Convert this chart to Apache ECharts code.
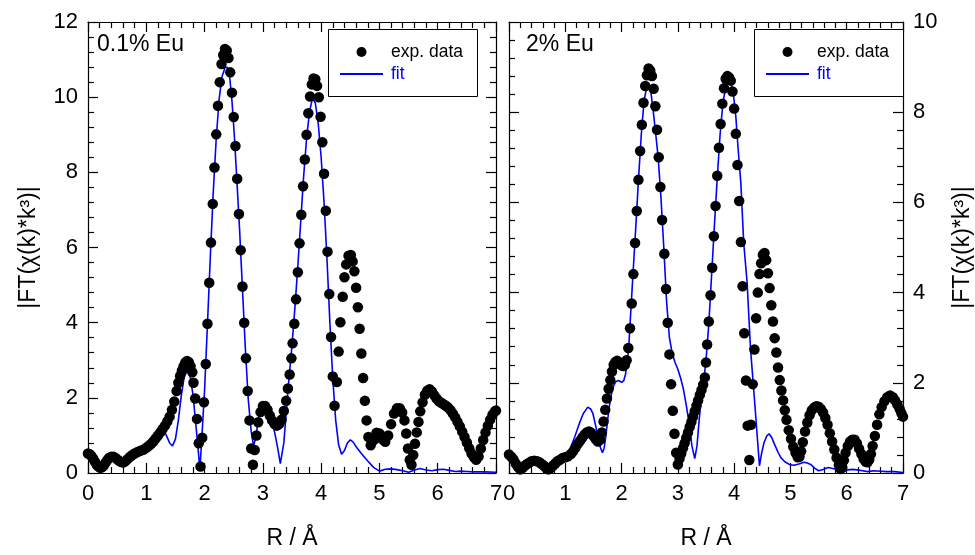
<!DOCTYPE html>
<html>
<head>
<meta charset="utf-8">
<script src="https://cdn.jsdelivr.net/npm/echarts@6/dist/echarts.min.js"></script>
<style>
html,body{margin:0;padding:0;background:#fff;}
#chart{width:975px;height:555px;}
</style>
</head>
<body>
<div id="chart"></div>
<script>
// ---------- data ----------
const xTicks = [0,1,2,3,4,5,6,7];
const leftYTicks = [0,2,4,6,8,10,12];
const rightYTicks = [0,2,4,6,8,10];
const panelLabels = ['0.1% Eu', '2% Eu'];
const legendNames = ['exp. data', 'fit'];

// 0.1% Eu experimental data
const leftExpR = [0.00,0.03,0.06,0.09,0.12,0.15,0.18,0.21,0.24,0.27,0.30,0.33,0.36,0.40,0.44,0.48,0.52,0.56,0.60,0.64,0.68,0.72,0.76,0.80,0.85,0.90,0.95,1.00,1.04,1.08,1.12,1.16,1.20,1.24,1.28,1.32,1.36,1.40,1.44,1.48,1.52,1.55,1.58,1.61,1.64,1.67,1.70,1.73,1.76,1.79,1.81,1.84,1.87,1.90,1.93,1.96,1.99,2.02,2.05,2.08,2.11,2.14,2.17,2.20,2.23,2.26,2.29,2.32,2.35,2.38,2.41,2.44,2.47,2.50,2.53,2.56,2.59,2.62,2.65,2.68,2.71,2.74,2.77,2.80,2.83,2.86,2.89,2.92,2.96,3.00,3.04,3.08,3.12,3.16,3.20,3.24,3.28,3.32,3.36,3.40,3.43,3.46,3.49,3.51,3.54,3.57,3.60,3.63,3.66,3.69,3.72,3.75,3.78,3.81,3.84,3.87,3.90,3.93,3.96,3.99,4.02,4.05,4.08,4.11,4.14,4.17,4.20,4.23,4.27,4.30,4.33,4.37,4.40,4.43,4.47,4.51,4.54,4.57,4.60,4.63,4.66,4.69,4.72,4.75,4.78,4.81,4.85,4.90,4.95,5.00,5.05,5.10,5.15,5.20,5.25,5.30,5.35,5.39,5.43,5.46,5.49,5.52,5.55,5.58,5.61,5.64,5.67,5.70,5.74,5.78,5.82,5.86,5.90,5.94,5.98,6.02,6.06,6.10,6.14,6.18,6.22,6.26,6.30,6.34,6.38,6.42,6.46,6.50,6.54,6.58,6.62,6.66,6.70,6.74,6.78,6.82,6.86,6.90,6.94,6.98,7.00];
const leftExpV = [0.52,0.50,0.45,0.38,0.30,0.22,0.17,0.14,0.15,0.20,0.27,0.34,0.40,0.43,0.43,0.39,0.34,0.30,0.28,0.31,0.37,0.43,0.48,0.52,0.56,0.59,0.62,0.67,0.72,0.77,0.84,0.92,1.00,1.08,1.17,1.26,1.37,1.50,1.68,1.90,2.18,2.40,2.58,2.72,2.84,2.94,2.98,2.95,2.84,2.68,2.40,1.98,1.44,0.79,0.17,0.94,1.88,2.90,3.97,5.06,6.13,7.16,8.13,9.01,9.77,10.40,10.88,11.12,11.28,11.24,11.04,10.66,10.12,9.47,8.70,7.83,6.89,5.93,4.96,4.00,3.05,2.18,1.40,0.65,0.22,0.61,1.00,1.35,1.62,1.78,1.78,1.68,1.53,1.40,1.30,1.26,1.30,1.42,1.65,1.92,2.25,2.62,3.05,3.45,3.97,4.62,5.34,6.11,6.87,7.63,8.34,9.00,9.57,10.02,10.34,10.50,10.48,10.30,10.00,9.48,8.80,7.96,6.98,5.89,4.76,3.62,2.57,1.79,2.42,3.23,4.01,4.69,5.21,5.55,5.78,5.80,5.63,5.37,4.93,4.41,3.84,3.18,2.53,1.92,1.40,0.96,0.74,0.87,1.07,1.05,0.90,0.83,1.00,1.30,1.58,1.72,1.72,1.61,1.40,1.05,0.65,0.35,0.22,0.48,0.78,1.08,1.36,1.64,1.88,2.08,2.19,2.23,2.17,2.07,1.98,1.91,1.87,1.83,1.79,1.74,1.67,1.58,1.48,1.36,1.24,1.10,0.96,0.81,0.66,0.52,0.42,0.35,0.44,0.65,0.88,1.08,1.26,1.42,1.55,1.64,1.66];

// 0.1% Eu fit
const leftFitR = [0.00,0.05,0.10,0.15,0.20,0.25,0.30,0.35,0.40,0.45,0.50,0.55,0.60,0.65,0.70,0.75,0.80,0.90,1.00,1.05,1.10,1.15,1.20,1.25,1.30,1.35,1.40,1.45,1.50,1.55,1.60,1.65,1.70,1.75,1.80,1.85,1.90,1.92,1.95,2.00,2.05,2.10,2.15,2.20,2.25,2.30,2.35,2.39,2.43,2.47,2.51,2.55,2.60,2.65,2.70,2.75,2.80,2.84,2.88,2.92,2.96,3.00,3.05,3.10,3.15,3.20,3.25,3.30,3.33,3.36,3.40,3.45,3.50,3.55,3.60,3.65,3.70,3.75,3.80,3.85,3.90,3.95,4.00,4.05,4.10,4.15,4.20,4.25,4.30,4.35,4.40,4.45,4.50,4.55,4.60,4.70,4.80,4.90,5.00,5.10,5.20,5.30,5.40,5.50,5.60,5.70,5.80,5.90,6.00,6.10,6.20,6.30,6.40,6.50,6.60,6.80,7.00];
const leftFitV = [0.52,0.42,0.25,0.10,0.02,0.05,0.18,0.32,0.38,0.36,0.29,0.22,0.19,0.24,0.33,0.42,0.50,0.58,0.66,0.74,0.88,1.04,1.17,1.22,1.15,0.98,0.80,0.72,0.90,1.40,2.05,2.55,2.72,2.60,2.10,1.30,0.45,0.10,0.85,2.20,3.97,5.80,7.50,8.90,9.95,10.55,10.78,10.80,10.55,9.90,9.00,7.90,6.50,4.90,3.30,1.95,1.10,0.72,0.95,1.40,1.72,1.80,1.72,1.55,1.35,1.10,0.70,0.25,0.20,0.80,1.60,2.55,3.40,4.40,5.50,6.70,7.90,8.90,9.60,9.97,9.85,9.30,8.40,7.20,5.70,4.00,2.50,1.40,0.75,0.50,0.60,0.80,0.88,0.82,0.70,0.50,0.32,0.15,0.05,0.10,0.11,0.09,0.06,0.02,0.08,0.12,0.08,0.06,0.09,0.10,0.07,0.04,0.05,0.04,0.03,0.03,0.02];

// 2% Eu experimental data
const rightExpR = [0.00,0.04,0.08,0.12,0.16,0.20,0.24,0.28,0.32,0.36,0.40,0.45,0.50,0.54,0.58,0.62,0.66,0.70,0.74,0.78,0.82,0.86,0.90,0.95,1.00,1.05,1.10,1.14,1.18,1.22,1.26,1.30,1.34,1.38,1.42,1.46,1.50,1.54,1.58,1.62,1.65,1.68,1.71,1.74,1.77,1.80,1.83,1.86,1.89,1.92,1.95,1.98,2.00,2.03,2.06,2.09,2.12,2.15,2.18,2.21,2.24,2.27,2.30,2.33,2.36,2.39,2.42,2.45,2.48,2.51,2.54,2.57,2.60,2.63,2.66,2.69,2.72,2.76,2.79,2.82,2.85,2.88,2.91,2.94,2.97,3.00,3.03,3.06,3.09,3.12,3.15,3.18,3.21,3.24,3.27,3.30,3.33,3.36,3.39,3.42,3.45,3.48,3.50,3.52,3.55,3.58,3.61,3.64,3.67,3.70,3.73,3.76,3.79,3.82,3.85,3.88,3.91,3.94,3.97,4.00,4.03,4.06,4.09,4.12,4.15,4.18,4.21,4.24,4.27,4.30,4.33,4.36,4.39,4.42,4.45,4.48,4.51,4.54,4.57,4.60,4.63,4.66,4.69,4.72,4.75,4.78,4.81,4.84,4.87,4.90,4.93,4.97,5.01,5.05,5.09,5.13,5.16,5.19,5.22,5.26,5.30,5.34,5.38,5.42,5.46,5.50,5.54,5.58,5.62,5.66,5.70,5.74,5.78,5.82,5.86,5.89,5.92,5.95,5.98,6.02,6.06,6.10,6.14,6.18,6.22,6.26,6.30,6.34,6.37,6.40,6.43,6.46,6.50,6.54,6.58,6.62,6.67,6.72,6.77,6.82,6.86,6.90,6.94,6.97,7.00];
const rightExpV = [0.41,0.36,0.30,0.21,0.13,0.08,0.11,0.16,0.20,0.23,0.26,0.27,0.26,0.24,0.20,0.16,0.11,0.08,0.11,0.16,0.21,0.26,0.29,0.33,0.35,0.37,0.42,0.48,0.56,0.64,0.71,0.78,0.85,0.90,0.92,0.89,0.82,0.75,0.70,0.74,0.90,1.14,1.40,1.65,1.87,2.06,2.25,2.40,2.46,2.49,2.46,2.41,2.39,2.37,2.40,2.50,2.77,3.21,3.76,4.41,5.10,5.81,6.50,7.14,7.72,8.21,8.58,8.82,8.97,8.92,8.80,8.52,8.13,7.61,7.00,6.34,5.61,4.86,4.08,3.33,2.63,1.97,1.38,0.87,0.45,0.19,0.32,0.43,0.55,0.66,0.78,0.90,1.02,1.13,1.25,1.37,1.49,1.61,1.73,1.84,1.96,2.12,2.45,2.85,3.36,3.94,4.55,5.25,5.92,6.59,7.21,7.74,8.19,8.53,8.74,8.80,8.77,8.70,8.46,8.08,7.52,6.83,6.03,5.12,4.14,3.10,2.05,1.05,0.29,1.07,1.97,2.74,3.43,4.00,4.41,4.65,4.84,4.88,4.72,4.43,4.10,3.72,3.36,2.99,2.67,2.34,2.06,1.83,1.61,1.39,1.18,0.95,0.76,0.58,0.45,0.35,0.36,0.48,0.68,0.92,1.12,1.28,1.39,1.45,1.48,1.47,1.42,1.34,1.22,1.07,0.88,0.70,0.52,0.34,0.18,0.09,0.12,0.28,0.45,0.60,0.70,0.74,0.74,0.66,0.54,0.42,0.31,0.25,0.24,0.30,0.42,0.60,0.82,1.07,1.30,1.46,1.59,1.68,1.72,1.68,1.61,1.52,1.42,1.33,1.25];

// 2% Eu fit
const rightFitR = [1.00,1.05,1.10,1.17,1.25,1.32,1.40,1.45,1.49,1.54,1.58,1.62,1.66,1.69,1.72,1.75,1.78,1.82,1.86,1.90,1.95,2.00,2.04,2.07,2.10,2.13,2.16,2.20,2.25,2.30,2.35,2.40,2.44,2.48,2.52,2.56,2.60,2.65,2.70,2.75,2.80,2.85,2.90,2.95,3.00,3.05,3.10,3.15,3.20,3.25,3.30,3.34,3.38,3.42,3.46,3.50,3.55,3.60,3.65,3.70,3.75,3.80,3.85,3.90,3.95,3.99,4.03,4.07,4.12,4.17,4.23,4.29,4.34,4.38,4.42,4.45,4.49,4.53,4.58,4.62,4.67,4.72,4.78,4.83,4.90,4.98,5.06,5.15,5.24,5.30,5.36,5.43,5.50,5.58,5.67,5.75,5.82,5.92,6.02,6.10,6.19,6.28,6.37,6.48,6.60,6.71,6.85,7.00];
const rightFitV = [0.38,0.45,0.58,0.81,1.10,1.32,1.46,1.42,1.32,1.05,0.81,0.58,0.45,0.55,0.81,1.15,1.46,1.75,1.94,2.03,2.05,2.01,2.05,2.19,2.45,2.85,3.50,4.35,5.40,6.50,7.50,8.25,8.52,8.60,8.45,8.05,7.60,7.00,6.10,5.00,3.80,3.00,2.65,2.45,2.30,2.10,1.85,1.50,1.10,0.60,0.32,0.60,1.20,1.70,2.05,2.50,3.30,4.40,5.50,6.55,7.50,8.20,8.55,8.70,8.65,8.37,7.90,7.20,6.41,5.10,4.23,2.77,1.97,1.32,0.65,0.16,0.45,0.67,0.82,0.87,0.78,0.63,0.46,0.34,0.25,0.19,0.17,0.20,0.24,0.22,0.19,0.11,0.05,0.08,0.12,0.10,0.08,0.07,0.07,0.08,0.07,0.05,0.03,0.05,0.04,0.03,0.03,0.01];

// ---------- chart ----------
const FONT = '"Liberation Sans", Arial, Helvetica, sans-serif';
const pairs = (r, v) => r.map((x, i) => [x, v[i]]);

const chart = echarts.init(document.getElementById('chart'), null, {renderer: 'canvas'});

const grids = [
  {left: 88, top: 22, width: 408, height: 458},
  {left: 509, top: 22, width: 404, height: 458}
];

function xAx(gi, pos, showLabel, withName) {
  return {
    type: 'value', gridIndex: gi, position: pos,
    min: xTicks[0], max: xTicks[xTicks.length - 1], interval: 1,
    axisLine: {show: true, onZero: false, lineStyle: {color: '#000', width: 1.2}},
    axisTick: {show: true, inside: true, length: 10, lineStyle: {color: '#000', width: 1.2}},
    minorTick: {show: true, splitNumber: 5, length: 6, lineStyle: {color: '#000', width: 1.2}},
    axisLabel: {show: showLabel, margin: 10, color: '#000', fontSize: 22, fontFamily: FONT},
    splitLine: {show: false},
    name: withName ? 'R / Å' : '',
    nameLocation: 'middle', nameGap: 54,
    nameTextStyle: {color: '#000', fontSize: 23, fontFamily: FONT}
  };
}
function yAx(gi, pos, ticks, showLabel, withName) {
  return {
    type: 'value', gridIndex: gi, position: pos,
    min: ticks[0], max: ticks[ticks.length - 1], interval: 2,
    axisLine: {show: true, onZero: false, lineStyle: {color: '#000', width: 1.2}},
    axisTick: {show: true, inside: true, length: 10, lineStyle: {color: '#000', width: 1.2}},
    minorTick: {show: true, splitNumber: 5, length: 6, lineStyle: {color: '#000', width: 1.2}},
    axisLabel: {show: showLabel, margin: 10, color: '#000', fontSize: 22, fontFamily: FONT},
    splitLine: {show: false},
    name: withName ? '|FT(χ(k)*k³)|' : '',
    nameLocation: 'middle', nameGap: 48, nameRotate: 90,
    nameTextStyle: {color: '#000', fontSize: 23, fontFamily: FONT}
  };
}

function legendGraphics(boxLeft) {
  return [
    {type: 'rect', left: boxLeft, top: 29, shape: {width: 149, height: 67},
     style: {fill: '#fff', stroke: '#000', lineWidth: 1}, z: 100},
    {type: 'circle', shape: {cx: boxLeft + 33.5, cy: 52, r: 5}, style: {fill: '#000'}, z: 101},
    {type: 'line', shape: {x1: boxLeft + 12, y1: 74, x2: boxLeft + 55, y2: 74},
     style: {stroke: '#0000ff', lineWidth: 2}, z: 101},
    {type: 'text', left: boxLeft + 63, top: 43,
     style: {text: legendNames[0], fill: '#000', font: '17.5px ' + FONT}, z: 101},
    {type: 'text', left: boxLeft + 63, top: 65,
     style: {text: legendNames[1], fill: '#0000ff', font: '17.5px ' + FONT}, z: 101}
  ];
}

const option = {
  backgroundColor: '#fff',
  animation: false,
  grid: grids,
  xAxis: [xAx(0, 'bottom', true, true), xAx(0, 'top', false, false),
          xAx(1, 'bottom', true, true), xAx(1, 'top', false, false)],
  yAxis: [yAx(0, 'left', leftYTicks, true, true), yAx(0, 'right', leftYTicks, false, false),
          yAx(1, 'left', rightYTicks, false, false), yAx(1, 'right', rightYTicks, true, true)],
  series: [
    {type: 'line', xAxisIndex: 0, yAxisIndex: 0, data: pairs(leftFitR, leftFitV),
     showSymbol: false, symbol: 'none', lineStyle: {color: '#0000ff', width: 1.6}, z: 2, clip: true},
    {type: 'scatter', xAxisIndex: 0, yAxisIndex: 0, data: pairs(leftExpR, leftExpV),
     symbol: 'circle', symbolSize: 10.5, itemStyle: {color: '#000', opacity: 1}, z: 3},
    {type: 'line', xAxisIndex: 2, yAxisIndex: 2, data: pairs(rightFitR, rightFitV),
     showSymbol: false, symbol: 'none', lineStyle: {color: '#0000ff', width: 1.6}, z: 2, clip: true},
    {type: 'scatter', xAxisIndex: 2, yAxisIndex: 2, data: pairs(rightExpR, rightExpV),
     symbol: 'circle', symbolSize: 10.5, itemStyle: {color: '#000', opacity: 1}, z: 3}
  ],
  graphic: [
    {type: 'text', left: 97, top: 33, style: {text: panelLabels[0], fill: '#000', font: '23px ' + FONT}, z: 100},
    {type: 'text', left: 526, top: 33, style: {text: panelLabels[1], fill: '#000', font: '23px ' + FONT}, z: 100}
  ].concat(legendGraphics(328), legendGraphics(754))
};
chart.setOption(option);
</script>
</body>
</html>
